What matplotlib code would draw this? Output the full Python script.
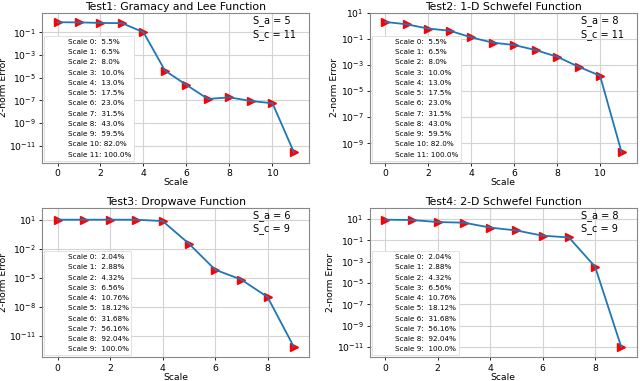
import numpy as np
import matplotlib
matplotlib.use("Agg")
import matplotlib.pyplot as plt
from matplotlib.lines import Line2D
from matplotlib.ticker import LogFormatterSciNotation, NullLocator

# errors per scale (log10 values)
titles = ["Test1: Gramacy and Lee Function", "Test2: 1-D Schwefel Function",
          "Test3: Dropwave Function", "Test4: 2-D Schwefel Function"]

log_err1 = [-0.12, -0.13, -0.18, -0.2, -1.0, -4.38, -5.65, -6.88, -6.74, -7.06, -7.26, -11.59]
log_err2 = [0.31, 0.13, -0.2, -0.36, -0.87, -1.28, -1.46, -1.85, -2.36, -3.13, -3.82, -9.69]
log_err3 = [1.0, 1.0, 1.0, 1.0, 0.86, -1.47, -4.17, -5.2, -7.0, -12.14]
log_err4 = [0.94, 0.91, 0.72, 0.66, 0.2, -0.07, -0.56, -0.72, -3.47, -11.0]

pct_a = ["5.5", "6.5", "8.0", "10.0", "13.0", "17.5", "23.0", "31.5", "43.0", "59.5", "82.0", "100.0"]
pct_b = ["2.04", "2.88", "4.32", "6.56", "10.76", "18.12", "31.68", "56.16", "92.04", "100.0"]

s_a = [5, 8, 6, 8]
s_c = [11, 11, 9, 9]

ytick_exp = [range(-11, 0, 2), range(-9, 2, 2), range(-11, 2, 3), range(-11, 2, 2)]
ylims = [(-12.5, 0.7), (-10.5, 1.0), (-13.25, 2.25), (-11.96, 2.07)]

all_err = [log_err1, log_err2, log_err3, log_err4]
all_pct = [pct_a, pct_a, pct_b, pct_b]

plt.rcParams["font.family"] = "DejaVu Sans"
fig, axes = plt.subplots(2, 2, figsize=(6.4, 3.81), dpi=100)
plt.subplots_adjust(left=0.066, right=0.995, bottom=0.062, top=0.966, wspace=0.227, hspace=0.3)

for k, ax in enumerate(axes.flat):
    err = 10.0 ** np.array(all_err[k])
    x = np.arange(len(err))
    ax.plot(x, err, ">", color="red", markersize=5.5, zorder=3)
    ax.plot(x, err, color="#1f77b4", linewidth=1.3, zorder=4)
    ax.set_yscale("log")
    ax.set_ylim(10.0 ** ylims[k][0], 10.0 ** ylims[k][1])
    ax.set_xlim(-0.06 * (len(err) - 1) - 0.05, (len(err) - 1) * 1.06 + 0.05)
    ax.set_yticks([10.0 ** e for e in ytick_exp[k]])
    ax.yaxis.set_major_formatter(LogFormatterSciNotation())
    ax.yaxis.set_minor_locator(NullLocator())
    ax.set_xticks(range(0, len(err), 2))
    ax.grid(True, color="#d3d3d3", linewidth=0.8)
    ax.set_axisbelow(True)
    for sp in ax.spines.values():
        sp.set_color("#888888")
        sp.set_linewidth(0.8)
    ax.tick_params(labelsize=6.7, length=2.5, width=0.6, pad=2)
    ax.set_title(titles[k], fontsize=7.8, pad=2)
    ax.set_xlabel("Scale", fontsize=6.7, labelpad=0)
    ax.set_ylabel("2-norm Error", fontsize=6.7, labelpad=1)
    ax.text(0.79, 0.985, f"S_a = {s_a[k]}\nS_c = {s_c[k]}", transform=ax.transAxes,
            fontsize=7, va="top", ha="left", linespacing=1.35)

    labels = []
    for i, p in enumerate(all_pct[k]):
        pad = "  " if i < 10 else " "
        labels.append(f"Scale {i}:{pad}{p}%")
    handles = [Line2D([], [], linestyle="none") for _ in labels]
    leg = ax.legend(handles, labels, loc="lower left", fontsize=5.2, labelspacing=0.58,
                    borderaxespad=0.3, framealpha=1, edgecolor="#dddddd", fancybox=False)
    leg.get_frame().set_linewidth(0.6)

plt.savefig("out.png", dpi=100)
